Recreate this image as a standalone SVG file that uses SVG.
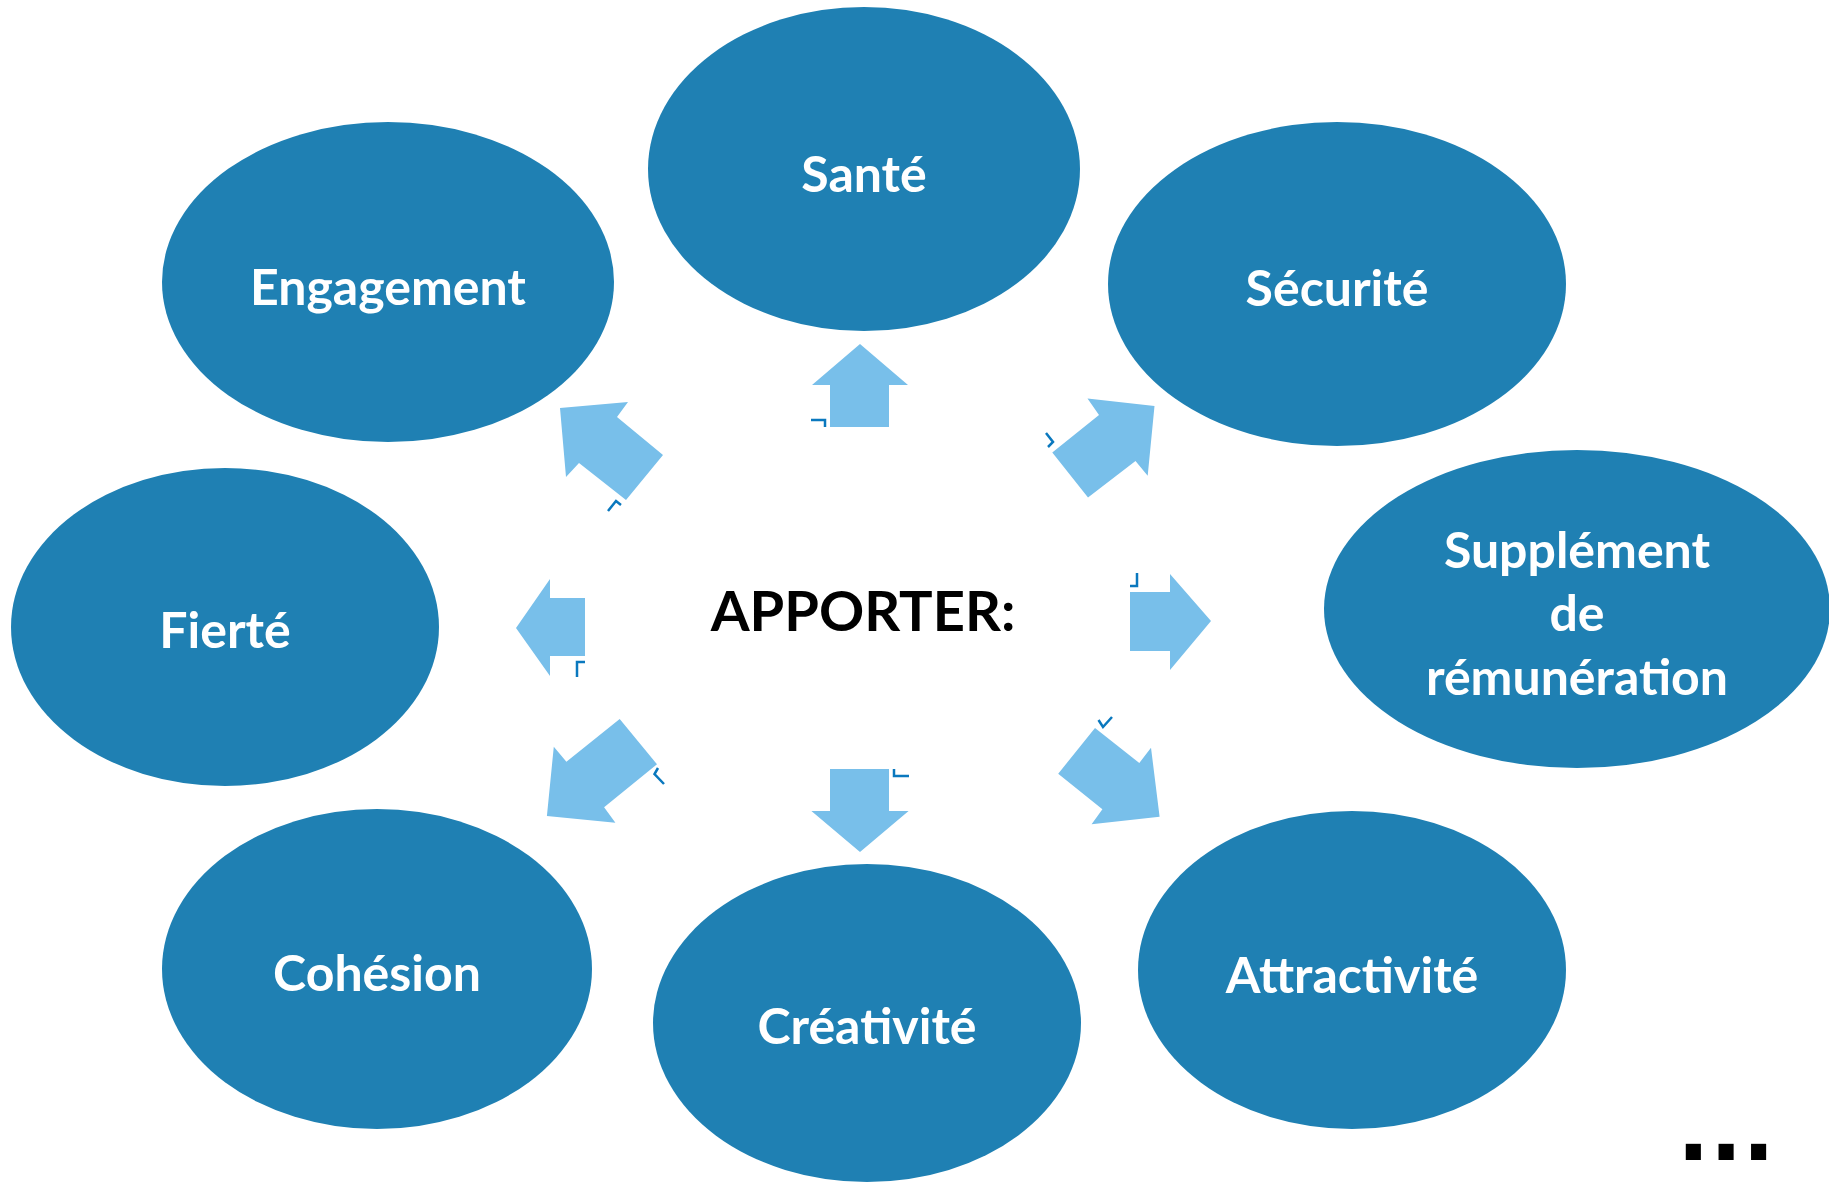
<svg xmlns="http://www.w3.org/2000/svg" width="1829" height="1182" viewBox="0 0 1829 1182">
<style>
.node ellipse{fill:#1F80B3}
.lbl{font-family:Lato,"Liberation Sans",sans-serif;font-weight:bold;font-size:50px;fill:#fff;text-anchor:middle}
.arrow{fill:#78BFEA}
.mark{fill:none;stroke:#0A78BE;stroke-width:2.5}
.center{font-family:Lato,"Liberation Sans",sans-serif;font-weight:bold;font-size:56px;fill:#000;text-anchor:middle}
</style>
<rect width="1829" height="1182" fill="#fff"/>
<g id="connectors">
<polygon class="arrow" points="860,344 908,385 889,385 889,427 830,427 830,385 812,385"/>
<polyline class="mark" points="811,420 825,420 825,427"/>
<polygon class="arrow" points="1087.5,398.5 1154.5,406 1147.7,475.7 1135.5,461 1088,497.5 1052.3,452.5 1099,415"/>
<polyline class="mark" points="1046,433 1053,442 1048,447"/>
<polygon class="arrow" points="560,408 628,402 617,417 663,455 626,500 579,463 566,477"/>
<polyline class="mark" points="608,511 616,501 621,505"/>
<polygon class="arrow" points="516,628 550,579 550,598 585,598 585,656 550,656 550,676"/>
<polyline class="mark" points="577,677 577,662 585,662"/>
<polygon class="arrow" points="1211,621 1170,574 1170,592 1130,592 1130,651 1170,651 1170,670"/>
<polyline class="mark" points="1130,586 1137,586 1137,573"/>
<polygon class="arrow" points="619.7,719 657,764.3 604.1,807.3 615.4,822.7 546.9,816 553.8,746.7 566.4,761.7"/>
<polyline class="mark" points="658,768 654.5,774 664,784"/>
<polygon class="arrow" points="830,769 889,769 889,811 908.6,811 860,852 811.4,811 830,811"/>
<polyline class="mark" points="894,769 894,776 909,776"/>
<polygon class="arrow" points="1095,728 1139.3,763 1151,747.7 1159.6,816.7 1091.6,824.3 1102.4,809.3 1058.2,773.7"/>
<polyline class="mark" points="1098.5,720 1103,727 1112,717"/>
</g>
<g id="node-sante" class="node"><ellipse cx="864" cy="169" rx="216" ry="162"/><text class="lbl" x="864" y="192">Santé</text></g>
<g id="node-engagement" class="node"><ellipse cx="388" cy="282" rx="226" ry="160"/><text class="lbl" x="388" y="305">Engagement</text></g>
<g id="node-securite" class="node"><ellipse cx="1337" cy="284" rx="229" ry="162"/><text class="lbl" x="1337" y="306">Sécurité</text></g>
<g id="node-supplement" class="node"><ellipse cx="1577" cy="609" rx="253" ry="159"/><text class="lbl" x="1577" y="568">Supplément</text><text class="lbl" x="1577" y="631">de</text><text class="lbl" x="1577" y="695">rémunération</text></g>
<g id="node-fierte" class="node"><ellipse cx="225" cy="627" rx="214" ry="159"/><text class="lbl" x="225" y="648">Fierté</text></g>
<g id="node-cohesion" class="node"><ellipse cx="377" cy="969" rx="215" ry="160"/><text class="lbl" x="377" y="991">Cohésion</text></g>
<g id="node-creativite" class="node"><ellipse cx="867" cy="1023" rx="214" ry="159"/><text class="lbl" x="867" y="1044">Créativité</text></g>
<g id="node-attractivite" class="node"><ellipse cx="1352" cy="970" rx="214" ry="159"/><text class="lbl" x="1352" y="993">Attractivité</text></g>
<g id="node-apporter"><text class="center" x="863" y="631">APPORTER:</text></g>
<text x="1726" y="1160" style="font-family:'DejaVu Sans',sans-serif;font-weight:bold;font-size:86px;fill:#000;text-anchor:middle">...</text>
</svg>
